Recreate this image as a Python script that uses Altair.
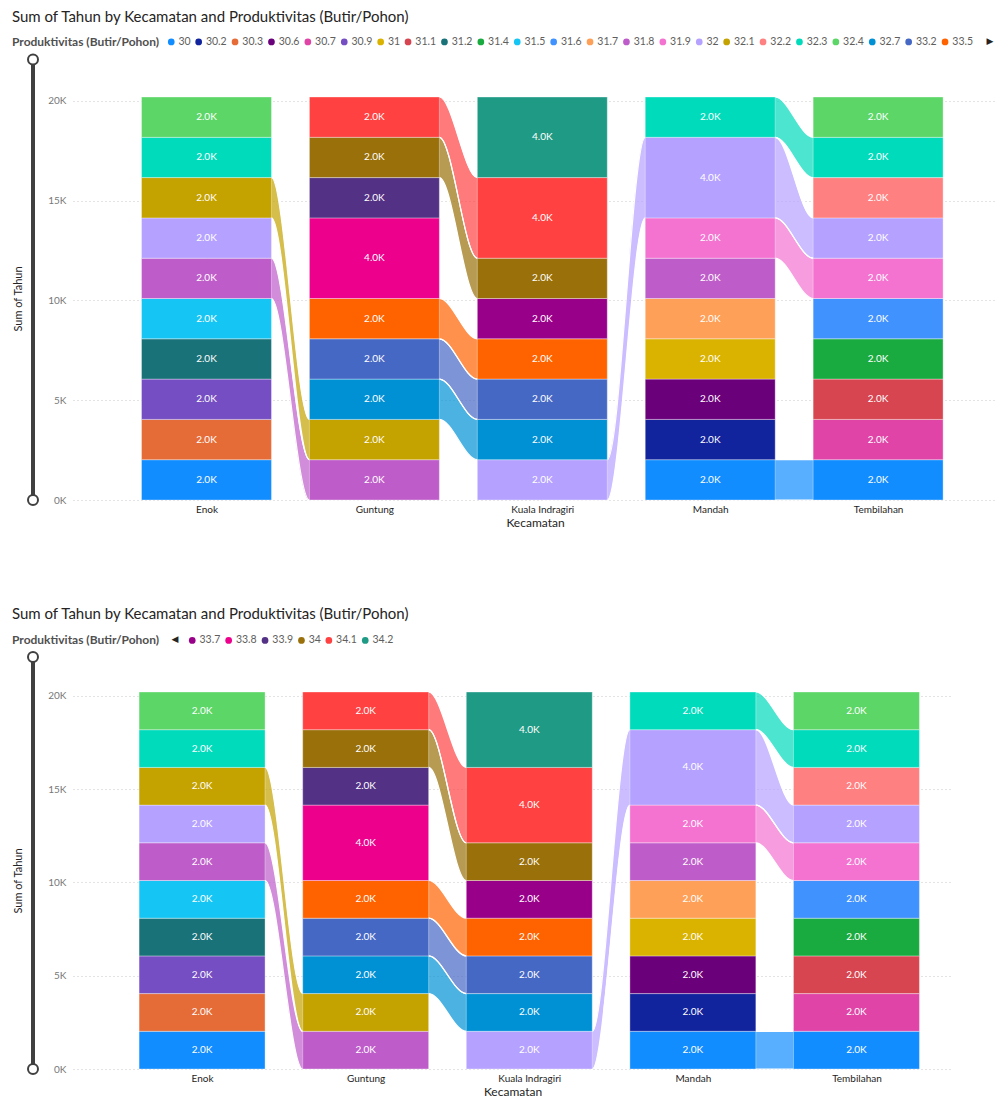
import json
import altair as alt
import pandas as pd

# ---------------- data ----------------
kecamatan = ["Enok", "Guntung", "Kuala Indragiri", "Mandah", "Tembilahan"]

produktivitas = ["30", "30.2", "30.3", "30.6", "30.7", "30.9", "31", "31.1", "31.2",
                 "31.4", "31.5", "31.6", "31.7", "31.8", "31.9", "32", "32.1", "32.2",
                 "32.3", "32.4", "32.7", "33.2", "33.5", "33.7", "33.8", "33.9", "34",
                 "34.1", "34.2"]

palette = ["#118DFF", "#12239E", "#E66C37", "#6B007B", "#E044A7", "#744EC2", "#D9B300",
           "#D64550", "#197278", "#1AAB40", "#15C6F4", "#4092FF", "#FFA058", "#BE5DC9",
           "#F472D0", "#B5A1FF", "#C4A200", "#FF8080", "#00DBBC", "#5BD667", "#0091D5",
           "#4668C5", "#FF6300", "#99008A", "#EC008C", "#533285", "#99700A", "#FF4141",
           "#1F9A85"]

enok_prod = ["30", "30.3", "30.9", "31.2", "31.5", "31.8", "32", "32.1", "32.3", "32.4"]
enok_tahun = [2020, 2020, 2020, 2020, 2020, 2020, 2020, 2020, 2020, 2020]

guntung_prod = ["31.8", "32.1", "32.7", "33.2", "33.5", "33.8", "33.9", "34", "34.1"]
guntung_tahun = [2020, 2020, 2020, 2020, 2020, 4040, 2020, 2020, 2020]

kuala_prod = ["32", "32.7", "33.2", "33.5", "33.7", "34", "34.1", "34.2"]
kuala_tahun = [2020, 2020, 2020, 2020, 2020, 2020, 4040, 4040]

mandah_prod = ["30", "30.2", "30.6", "31", "31.7", "31.8", "31.9", "32", "32.3"]
mandah_tahun = [2020, 2020, 2020, 2020, 2020, 2020, 2020, 4040, 2020]

tembilahan_prod = ["30", "30.7", "31.1", "31.4", "31.6", "31.9", "32", "32.2", "32.3", "32.4"]
tembilahan_tahun = [2020, 2020, 2020, 2020, 2020, 2020, 2020, 2020, 2020, 2020]

groups = [(enok_prod, enok_tahun), (guntung_prod, guntung_tahun),
          (kuala_prod, kuala_tahun), (mandah_prod, mandah_tahun),
          (tembilahan_prod, tembilahan_tahun)]

# ---------------- derived tables ----------------
bar_rows, stacks = [], []
for i, (prods, vals) in enumerate(groups):
    cum = 0
    st = {}
    for p, v in zip(prods, vals):
        bar_rows.append(dict(k=i, kec=kecamatan[i], prod=p, tahun=v, y0=cum, y1=cum + v,
                             ym=cum + v / 2, label=f"{v / 1000:.1f}K"))
        st[p] = (cum, cum + v)
        cum += v
    stacks.append(st)
bars = pd.DataFrame(bar_rows)

rib_rows = []
for i in range(len(groups) - 1):
    for p in groups[i][0]:
        if p in stacks[i + 1]:
            a, b = stacks[i][p], stacks[i + 1][p]
            for pos, (lo, hi) in enumerate([a, a, b, b]):
                rib_rows.append(dict(rid=f"r{i}_{p}", prod=p, k=i, pos=pos,
                                     lo=float(lo), hi=float(hi)))
ribs = pd.DataFrame(rib_rows)

FONT = "Segoe UI, Lato, sans-serif"
label_expr = json.dumps(kecamatan) + "[datum.value]"


def panel(hw, xmin, xmax, width, height, legend_vals, legend_y, title_offset,
          slider_top, arrow_x, arrow_y, arrow_text, title_pad):
    xs = alt.Scale(domain=[xmin, xmax], nice=False, zero=False)
    ys = alt.Scale(nice=False, zero=True)
    cs = alt.Scale(domain=produktivitas, range=palette)
    leg = alt.Legend(title="Produktivitas (Butir/Pohon)", orient="none", legendX=-61,
                     legendY=legend_y, direction="horizontal", columns=len(legend_vals),
                     values=legend_vals, titleOrient="left", titleFontSize=12,
                     titleFontWeight="bold", titleColor="#505050", labelFontSize=10.5,
                     labelColor="#605E5C", symbolType="circle", symbolSize=45,
                     symbolStrokeWidth=0, symbolOpacity=1, labelOffset=2,
                     columnPadding=2.4, titlePadding=title_pad, titleFont=FONT,
                     labelFont=FONT)
    xaxis = alt.Axis(values=list(range(len(kecamatan))), labelExpr=label_expr,
                     title="Kecamatan", grid=False, ticks=False, domain=False,
                     labelColor="#252423", labelFontSize=10, labelPadding=4,
                     titleColor="#252423", titleFontSize=12, titleFontWeight="normal",
                     titlePadding=3, labelFont=FONT, titleFont=FONT)
    yaxis = alt.Axis(values=[0, 5000, 10000, 15000, 20000],
                     labelExpr="datum.value / 1000 + 'K'", title="Sum of Tahun",
                     grid=True, gridDash=[1, 3], gridColor="#C8C8C8", ticks=False,
                     domain=False, labelColor="#777777", labelFontSize=10, labelPadding=7,
                     titleColor="#252423", titleFontSize=11, titleFontWeight="normal",
                     titlePadding=24, labelFont=FONT, titleFont=FONT)

    rb = ribs.copy()
    rb["px"] = rb["k"] + rb["pos"].map({0: 0.0, 1: hw, 2: 1 - hw, 3: 1.0})
    bd = bars.copy()
    bd["xa"] = bd["k"] - hw
    bd["xb"] = bd["k"] + hw

    ribbon = alt.Chart(rb).mark_area(interpolate="monotone", fillOpacity=0.7,
                                      orient="vertical").encode(
        x=alt.X("px:Q", scale=xs, axis=xaxis),
        y=alt.Y("lo:Q", scale=ys, axis=yaxis),
        y2=alt.Y2("hi:Q"),
        color=alt.Color("prod:N", scale=cs, legend=leg),
        detail=alt.Detail("rid:N"),
    )
    edge_lo = alt.Chart(rb).mark_line(interpolate="monotone", color="white",
                                      strokeWidth=1.2).encode(
        x=alt.X("px:Q", scale=xs, axis=xaxis),
        y=alt.Y("lo:Q", scale=ys, axis=yaxis),
        detail=alt.Detail("rid:N"),
    )
    edge_hi = alt.Chart(rb).mark_line(interpolate="monotone", color="white",
                                      strokeWidth=1.2).encode(
        x=alt.X("px:Q", scale=xs, axis=xaxis),
        y=alt.Y("hi:Q", scale=ys, axis=yaxis),
        detail=alt.Detail("rid:N"),
    )
    rects = alt.Chart(bd).mark_rect(stroke="white", strokeWidth=1, strokeOpacity=0.35).encode(
        x=alt.X("xa:Q", scale=xs, axis=xaxis),
        x2="xb:Q",
        y=alt.Y("y0:Q", scale=ys, axis=yaxis),
        y2="y1:Q",
        color=alt.Color("prod:N", scale=cs, legend=leg),
    )
    texts = alt.Chart(bd).mark_text(color="white", fontSize=10, font=FONT).encode(
        x=alt.X("k:Q", scale=xs, axis=xaxis),
        y=alt.Y("ym:Q", scale=ys, axis=yaxis),
        text="label:N",
    )
    base0 = pd.DataFrame({"v": [0]})
    rule = alt.Chart(base0).mark_rule(color="#404040", strokeWidth=4).encode(
        x=alt.value(-40), y=alt.Y("v:Q", scale=ys, axis=yaxis), y2=alt.value(slider_top))
    knob_b = alt.Chart(base0).mark_point(shape="circle", filled=True, fill="white",
                                         stroke="#404040", strokeWidth=2, size=100,
                                         opacity=1).encode(
        x=alt.value(-40), y=alt.Y("v:Q", scale=ys, axis=yaxis))
    knob_t = alt.Chart(base0).mark_point(shape="circle", filled=True, fill="white",
                                         stroke="#404040", strokeWidth=2, size=100,
                                         opacity=1).encode(
        x=alt.value(-40), y=alt.value(slider_top))
    arrow = alt.Chart(base0).mark_text(text=arrow_text, color="#252423", fontSize=9,
                                       font="DejaVu Sans").encode(
        x=alt.value(arrow_x), y=alt.value(arrow_y))

    return alt.layer(ribbon, edge_lo, edge_hi, rects, texts, rule, knob_b, knob_t,
                     arrow).properties(
        width=width, height=height,
        title=alt.TitleParams("Sum of Tahun by Kecamatan and Produktivitas (Butir/Pohon)",
                              anchor="start", frame="bounds", fontSize=15,
                              color="#252423", fontWeight="normal", font=FONT,
                              offset=title_offset),
    )


top = panel(hw=0.387, xmin=-0.795, xmax=4.708, width=924, height=403,
            legend_vals=produktivitas[:23], legend_y=-60.5, title_offset=11.5,
            slider_top=-37.5, arrow_x=917, arrow_y=-56, arrow_text="▶", title_pad=6)
bottom = panel(hw=0.385, xmin=-0.789, xmax=4.584, width=879, height=377,
               legend_vals=produktivitas[23:], legend_y=-57, title_offset=13,
               slider_top=-35, arrow_x=102, arrow_y=-53, arrow_text="◀", title_pad=27)

chart = alt.vconcat(top, bottom, spacing=79).resolve_scale(
    color="independent", x="independent", y="independent"
).resolve_legend(color="independent").configure(
    font=FONT, padding={"left": 4, "top": 2, "right": 0, "bottom": 2}
).configure_view(stroke=None)

chart.save("out.html", embed_options={"renderer": "svg", "actions": False})
